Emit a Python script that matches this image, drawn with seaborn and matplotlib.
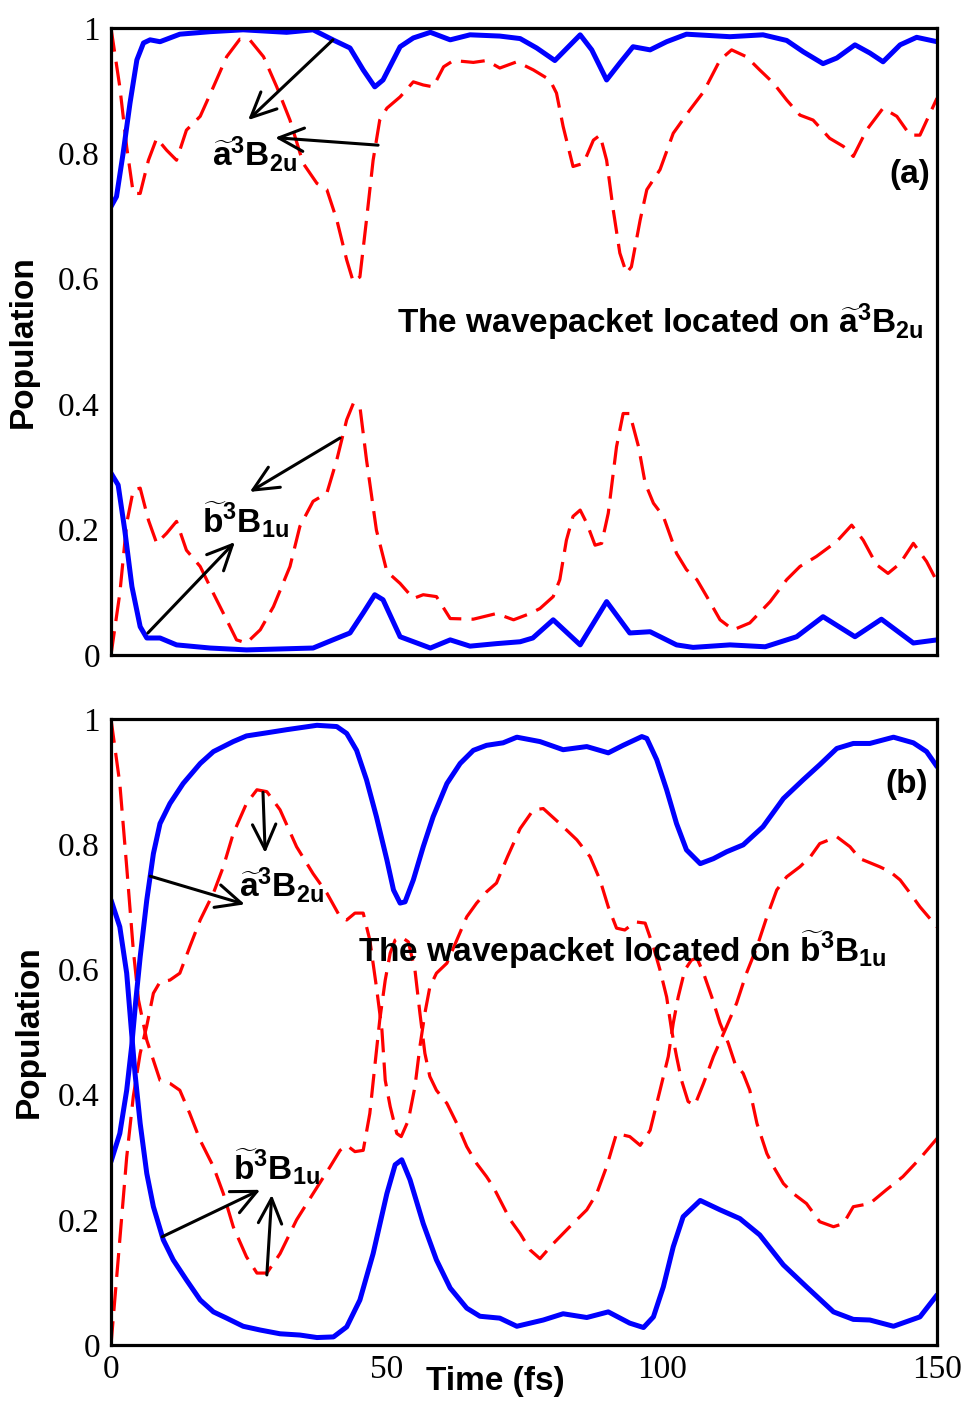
import numpy as np
import matplotlib
matplotlib.use("Agg")
import matplotlib.pyplot as plt
import seaborn as sns
from matplotlib.ticker import FixedLocator, FixedFormatter

# ---------------- panel (a): wavepacket on a~3B2u ----------------
a_blue_a_t = [0, 1.0, 2.2, 3.45, 4.7, 5.9, 7.1, 8.9, 12.5, 18, 24, 31.9, 36.7, 40.3, 43.4,
              45.8, 47.9, 49.4, 52.5, 54.9, 58, 61.6, 65.2, 70.6, 74.3, 77.3, 80.6, 85.2,
              87.3, 90.0, 92.4, 94.8, 97.9, 100.9, 104.5, 112.4, 118.4, 122.7, 125.7,
              129.3, 131.8, 135.1, 137.8, 140.2, 143.3, 146.3, 150]
a_blue_a_v = [0.715, 0.731, 0.80, 0.88, 0.949, 0.976, 0.981, 0.978, 0.99, 0.994, 0.997,
              0.993, 0.997, 0.981, 0.968, 0.933, 0.906, 0.917, 0.970, 0.984, 0.993, 0.981,
              0.989, 0.987, 0.983, 0.968, 0.948, 0.989, 0.965, 0.917, 0.944, 0.970, 0.965,
              0.978, 0.990, 0.986, 0.989, 0.980, 0.962, 0.943, 0.952, 0.973, 0.960, 0.946,
              0.973, 0.985, 0.978]

a_blue_b_t = [0, 1.3, 2.5, 3.8, 5.3, 6.5, 8.9, 11.9, 18, 24.6, 36.7, 40.3, 43.4, 45.8,
              47.9, 49.4, 52.5, 58, 61.6, 65.2, 70.0, 74.3, 76.6, 80.3, 85.2, 90.0, 94.2,
              97.9, 102.7, 105.7, 112.4, 118.8, 124.5, 129.3, 135.1, 139.9, 145.7, 150]
a_blue_b_v = [0.29, 0.271, 0.199, 0.109, 0.045, 0.027, 0.027, 0.016, 0.011, 0.008, 0.011,
              0.024, 0.035, 0.067, 0.096, 0.088, 0.029, 0.011, 0.024, 0.014, 0.018, 0.021,
              0.027, 0.056, 0.016, 0.085, 0.035, 0.037, 0.016, 0.012, 0.016, 0.013, 0.029,
              0.061, 0.029, 0.057, 0.019, 0.024]

a_red_a_t = [0, 1.6, 2.85, 4.05, 5.3, 6.8, 8.3, 10.1, 11.9, 13.7, 16.2, 18.6, 21.0, 23.4,
             25.2, 27.7, 30.1, 32.5, 34.9, 37.4, 39.2, 41.0, 42.8, 44.0, 45.2, 46.4, 47.6,
             48.8, 50.1, 52.5, 54.9, 56.7, 58.5, 60.4, 62.2, 65.8, 68.2, 70.6, 73.7, 76.7,
             79.7, 80.9, 82.1, 83.9, 85.8, 87.6, 88.8, 90.0, 91.2, 92.4, 93.6, 94.5, 96.1,
             97.3, 99.7, 102.1, 105.1, 107.6, 110.6, 112.7, 115.4, 117.8, 120.3, 122.7,
             125.1, 127.5, 130.5, 133.0, 134.8, 137.2, 140.2, 142.7, 145.1, 146.9, 150]
a_red_a_v = [1.0, 0.906, 0.81, 0.736, 0.736, 0.789, 0.824, 0.805, 0.789, 0.837, 0.859,
             0.906, 0.954, 0.982, 0.981, 0.954, 0.906, 0.853, 0.784, 0.752, 0.742, 0.694,
             0.63, 0.595, 0.603, 0.694, 0.789, 0.853, 0.872, 0.890, 0.914, 0.909, 0.906,
             0.938, 0.948, 0.945, 0.948, 0.936, 0.946, 0.933, 0.917, 0.896, 0.843, 0.779,
             0.784, 0.821, 0.829, 0.789, 0.71, 0.641, 0.609, 0.619, 0.694, 0.742, 0.774,
             0.832, 0.869, 0.898, 0.949, 0.965, 0.954, 0.933, 0.912, 0.885, 0.861, 0.853,
             0.824, 0.811, 0.795, 0.837, 0.872, 0.859, 0.829, 0.829, 0.888]

a_red_b_t = [0, 1.6, 2.85, 4.05, 5.3, 6.8, 8.3, 10.1, 11.9, 13.7, 16.2, 18.6, 21.0, 22.8,
             24.6, 27.1, 29.5, 32.5, 34.3, 36.7, 39.2, 41.0, 42.8, 44.0, 45.2, 46.4, 48.2,
             50.1, 52.5, 54.9, 56.7, 59.1, 61.6, 65.8, 70.0, 73.1, 76.1, 77.9, 80.3, 81.5,
             82.7, 83.9, 85.2, 86.4, 87.9, 89.1, 90.3, 91.8, 93.0, 94.2, 95.8, 97.0, 98.5,
             100.3, 102.7, 104.5, 106.4, 108.2, 110.6, 113.0, 116.0, 119.7, 122.7, 125.1,
             128.1, 131.8, 134.5, 136.6, 139.0, 141.1, 143.3, 145.7, 148.1, 150]
a_red_b_v = [0.0, 0.098, 0.21, 0.263, 0.266, 0.215, 0.178, 0.194, 0.213, 0.167, 0.141,
             0.098, 0.056, 0.024, 0.019, 0.04, 0.077, 0.141, 0.205, 0.245, 0.258, 0.311,
             0.375, 0.401, 0.396, 0.311, 0.199, 0.133, 0.114, 0.090, 0.096, 0.093, 0.058,
             0.057, 0.066, 0.056, 0.066, 0.074, 0.093, 0.12, 0.183, 0.221, 0.231, 0.21,
             0.175, 0.178, 0.226, 0.332, 0.385, 0.385, 0.332, 0.274, 0.242, 0.221, 0.162,
             0.136, 0.12, 0.093, 0.056, 0.04, 0.051, 0.085, 0.12, 0.141, 0.157, 0.181,
             0.207, 0.183, 0.144, 0.13, 0.146, 0.178, 0.149, 0.117]

# ---------------- panel (b): wavepacket on b~3B1u ----------------
b_blue_up_t = [0, 1.6, 2.85, 3.75, 4.5, 5.3, 6.5, 7.7, 8.9, 10.7, 13.1, 16.2, 18.6, 22.2,
               24.6, 28.3, 31.9, 37.4, 41.0, 42.8, 44.6, 46.4, 48.2, 50.1, 51.3, 52.5, 53.4,
               54.9, 56.7, 58.5, 61.0, 63.4, 65.8, 68.2, 71.2, 73.7, 77.9, 82.1, 86.4, 90.3,
               93.0, 96.4, 97.3, 99.1, 100.9, 102.7, 104.5, 107.0, 109.4, 111.8, 114.8,
               118.4, 122.1, 125.7, 128.7, 131.8, 134.8, 137.8, 142.1, 145.7, 148.1, 150]
b_blue_up_v = [0.293, 0.338, 0.407, 0.477, 0.55, 0.62, 0.711, 0.785, 0.833, 0.865, 0.897,
               0.929, 0.948, 0.964, 0.973, 0.978, 0.983, 0.990, 0.988, 0.977, 0.95, 0.903,
               0.844, 0.775, 0.727, 0.706, 0.708, 0.743, 0.796, 0.844, 0.897, 0.929, 0.95,
               0.958, 0.962, 0.971, 0.964, 0.951, 0.956, 0.946, 0.958, 0.972, 0.969, 0.935,
               0.887, 0.833, 0.791, 0.769, 0.777, 0.788, 0.799, 0.828, 0.873, 0.903, 0.927,
               0.953, 0.961, 0.961, 0.971, 0.962, 0.948, 0.924]

b_blue_down_t = [0, 1.6, 2.85, 3.75, 4.36, 5.3, 6.5, 7.7, 9.5, 11.3, 13.7, 16.2, 18.6, 21.0,
                 24.0, 27.1, 30.7, 34.3, 37.4, 40.4, 42.8, 45.2, 47.6, 50.1, 51.6, 52.8,
                 54.3, 56.7, 59.1, 61.6, 64.6, 67.0, 70.6, 73.7, 76.1, 78.5, 82.1, 86.4,
                 90.3, 94.2, 96.7, 98.5, 100.3, 102.1, 103.9, 107.0, 110.6, 114.2, 117.8,
                 122.1, 126.3, 131.2, 134.8, 137.8, 142.1, 146.9, 150]
b_blue_down_v = [0.711, 0.668, 0.594, 0.498, 0.434, 0.354, 0.274, 0.221, 0.168, 0.136,
                 0.104, 0.072, 0.053, 0.043, 0.030, 0.024, 0.018, 0.016, 0.012, 0.013,
                 0.029, 0.072, 0.146, 0.242, 0.288, 0.296, 0.264, 0.194, 0.136, 0.091,
                 0.059, 0.046, 0.043, 0.030, 0.035, 0.040, 0.050, 0.044, 0.053, 0.035,
                 0.028, 0.045, 0.093, 0.157, 0.205, 0.231, 0.216, 0.202, 0.176, 0.128,
                 0.093, 0.053, 0.041, 0.040, 0.030, 0.045, 0.08]

b_red_one_t = [0, 1.6, 2.85, 4.05, 5.0, 6.5, 8.9, 10.7, 12.5, 14.3, 16.2, 18.6, 20.4, 22.2,
               24.6, 26.5, 28.3, 30.7, 33.7, 36.7, 39.8, 41.6, 42.8, 44.3, 45.8, 47.0, 47.9,
               48.8, 49.8, 50.7, 51.6, 52.7, 54.0, 55.2, 56.1, 57.0, 57.9, 59.1, 61.0, 62.8,
               64.6, 66.4, 68.2, 69.4, 72.5, 74.3, 76.1, 77.9, 80.3, 83.3, 86.4, 88.2, 90.0,
               91.8, 94.2, 96.1, 97.9, 99.7, 101.2, 102.1, 103.0, 104.2, 105.4, 106.4,
               107.6, 109.1, 110.6, 112.1, 113.3, 114.8, 116.0, 117.3, 119.1, 120.3, 122.1,
               123.9, 126.3, 128.7, 131.2, 133.0, 134.8, 137.8, 140.8, 143.8, 146.9, 150]
b_red_one_v = [1.0, 0.897, 0.764, 0.631, 0.551, 0.487, 0.423, 0.418, 0.407, 0.37, 0.327,
               0.285, 0.242, 0.189, 0.141, 0.115, 0.115, 0.146, 0.2, 0.242, 0.285, 0.311,
               0.319, 0.309, 0.311, 0.37, 0.445, 0.519, 0.583, 0.626, 0.647, 0.652, 0.644,
               0.599, 0.53, 0.466, 0.429, 0.407, 0.386, 0.354, 0.317, 0.290, 0.269, 0.253,
               0.2, 0.178, 0.152, 0.138, 0.162, 0.189, 0.216, 0.242, 0.285, 0.338, 0.333,
               0.319, 0.343, 0.407, 0.461, 0.514, 0.556, 0.599, 0.615, 0.618, 0.594, 0.556,
               0.514, 0.482, 0.45, 0.434, 0.407, 0.354, 0.306, 0.285, 0.258, 0.242, 0.226,
               0.197, 0.189, 0.194, 0.221, 0.226, 0.248, 0.269, 0.298, 0.33]

b_red_two_t = [0, 1.6, 2.85, 4.05, 5.3, 6.5, 7.7, 8.9, 10.7, 12.5, 14.3, 16.2, 18.6, 20.4,
               22.2, 24.6, 26.5, 28.3, 30.7, 33.7, 36.7, 39.2, 41.6, 42.8, 44.3, 45.8, 47.0,
               48.2, 49.2, 49.8, 50.7, 51.9, 52.7, 54.0, 55.2, 56.1, 57.0, 57.9, 59.1, 61.0,
               62.8, 64.6, 66.4, 68.2, 70.0, 72.0, 74.3, 76.7, 78.5, 81.5, 84.6, 87.0, 88.8,
               90.3, 91.8, 93.3, 95.2, 97.0, 98.5, 99.7, 100.9, 101.8, 102.7, 103.6, 104.8,
               106.0, 107.6, 109.4, 111.5, 113.6, 115.4, 117.3, 119.1, 120.9, 122.7, 125.1,
               127.0, 128.7, 131.8, 134.2, 136.0, 139.6, 141.5, 143.3, 145.1, 146.9, 150]
b_red_two_v = [0.0, 0.168, 0.30, 0.397, 0.466, 0.51, 0.562, 0.580, 0.583, 0.594, 0.636,
               0.679, 0.722, 0.764, 0.817, 0.865, 0.887, 0.884, 0.855, 0.796, 0.753, 0.722,
               0.684, 0.679, 0.69, 0.69, 0.647, 0.572, 0.503, 0.423, 0.381, 0.338, 0.333,
               0.359, 0.413, 0.477, 0.530, 0.572, 0.594, 0.61, 0.647, 0.684, 0.706, 0.724,
               0.738, 0.78, 0.825, 0.855, 0.857, 0.833, 0.807, 0.78, 0.743, 0.700, 0.666,
               0.663, 0.676, 0.674, 0.636, 0.599, 0.556, 0.503, 0.461, 0.423, 0.389, 0.383,
               0.418, 0.461, 0.503, 0.546, 0.594, 0.636, 0.684, 0.727, 0.748, 0.764, 0.78,
               0.801, 0.812, 0.796, 0.777, 0.764, 0.756, 0.743, 0.722, 0.70, 0.668]

y_ticks = [0, 0.2, 0.4, 0.6, 0.8, 1.0]
y_tick_labels = ["0", "0.2", "0.4", "0.6", "0.8", "1"]
y_minor = [0.1, 0.3, 0.5, 0.7, 0.9]
x_ticks = [0, 50, 100, 150]
x_tick_labels = ["0", "50", "100", "150"]
x_minor = [25, 75, 125]

label_a = r"$\widetilde{\rm a}^{3}{\rm B}_{2u}$"
label_b = r"$\widetilde{\rm b}^{3}{\rm B}_{1u}$"

sns.set_theme(style="white")
plt.rcParams.update({
    "font.family": ["Liberation Serif", "DejaVu Serif"],
    "mathtext.fontset": "custom",
    "mathtext.rm": "Liberation Sans:bold",
    "mathtext.it": "Liberation Sans:bold",
    "mathtext.bf": "Liberation Sans:bold",
    "mathtext.sf": "Liberation Sans:bold",
    "axes.linewidth": 2.3,
    "axes.edgecolor": "black",
    "text.color": "black",
    "axes.labelcolor": "black",
    "xtick.color": "black",
    "ytick.color": "black",
    "xtick.labelcolor": "black",
    "ytick.labelcolor": "black",
})

BLUE = "#0000ff"
RED = "#ff0000"
SANS = "Liberation Sans"

fig = plt.figure(figsize=(9.66, 14.03), dpi=100)
ax_a = fig.add_axes([0.1149, 0.5332, 0.8551, 0.4469])
ax_b = fig.add_axes([0.1149, 0.0413, 0.8551, 0.4462])


def draw_red(ax, t, v):
    sns.lineplot(x=t, y=v, ax=ax, color=RED, linewidth=2.3, sort=False,
                 estimator=None, linestyle=(0, (7.5, 3.2)))


def draw_blue(ax, t, v):
    sns.lineplot(x=t, y=v, ax=ax, color=BLUE, linewidth=3.6, sort=False,
                 estimator=None)


def arrow(ax, tail, head):
    ax.annotate("", xy=head, xytext=tail,
                arrowprops=dict(arrowstyle="->,head_length=0.9,head_width=0.42",
                                lw=2.2, color="black", shrinkA=0, shrinkB=0,
                                mutation_scale=20))


def style_axes(ax, show_xlabels):
    ax.set_xlim(0, 150)
    ax.set_ylim(0, 1)
    ax.xaxis.set_major_locator(FixedLocator(x_ticks))
    ax.xaxis.set_minor_locator(FixedLocator(x_minor))
    ax.yaxis.set_major_locator(FixedLocator(y_ticks))
    ax.yaxis.set_minor_locator(FixedLocator(y_minor))
    ax.yaxis.set_major_formatter(FixedFormatter(y_tick_labels))
    ax.xaxis.set_major_formatter(FixedFormatter(x_tick_labels))
    ax.tick_params(axis="x", which="major", direction="in", length=16, width=1.5,
                   labelsize=24, pad=7, labelbottom=show_xlabels)
    ax.tick_params(axis="x", which="minor", direction="in", length=7, width=1.5)
    ax.tick_params(axis="y", which="major", direction="in", length=12, width=1.5,
                   labelsize=24, pad=8)
    ax.tick_params(axis="y", which="minor", direction="in", length=6, width=1.5)
    ax.tick_params(top=False, right=False, which="both", colors="black")
    for s in ax.spines.values():
        s.set_linewidth(2.3)
        s.set_color("black")
    ax.set_xlabel("")
    ax.set_ylabel("Population", fontsize=24, fontweight="bold", family=SANS,
                  color="black")


# ---- panel (a)
draw_red(ax_a, a_red_a_t, a_red_a_v)
draw_red(ax_a, a_red_b_t, a_red_b_v)
draw_blue(ax_a, a_blue_a_t, a_blue_a_v)
draw_blue(ax_a, a_blue_b_t, a_blue_b_v)
style_axes(ax_a, False)
ax_a.yaxis.set_label_coords(-0.088, 0.5)

ax_a.text(18.3, 0.78, label_a, fontsize=24, ha="left", va="baseline")
arrow(ax_a, (40.3, 0.981), (24.9, 0.853))
arrow(ax_a, (48.5, 0.813), (29.8, 0.825))
ax_a.text(16.6, 0.195, label_b, fontsize=24, ha="left", va="baseline")
arrow(ax_a, (41.6, 0.346), (25.2, 0.26))
arrow(ax_a, (6.7, 0.035), (22.5, 0.18))
ax_a.text(52.0, 0.514, "The wavepacket located on " + label_a, fontsize=24,
          fontweight="bold", family=SANS, ha="left", va="baseline")
ax_a.text(148.8, 0.752, "(a)", fontsize=24, fontweight="bold", family=SANS,
          ha="right", va="baseline")

# ---- panel (b)
draw_red(ax_b, b_red_one_t, b_red_one_v)
draw_red(ax_b, b_red_two_t, b_red_two_v)
draw_blue(ax_b, b_blue_up_t, b_blue_up_v)
draw_blue(ax_b, b_blue_down_t, b_blue_down_v)
style_axes(ax_b, True)
ax_b.yaxis.set_label_coords(-0.080, 0.5)
ax_b.set_xlabel("Time (fs)", fontsize=24, fontweight="bold", family=SANS,
                color="black")
ax_b.xaxis.set_label_coords(0.465, -0.034)

ax_b.text(23.3, 0.716, label_a, fontsize=24, ha="left", va="baseline")
arrow(ax_b, (27.6, 0.883), (28.0, 0.786))
arrow(ax_b, (7.1, 0.749), (24.3, 0.704))
ax_b.text(22.1, 0.264, label_b, fontsize=24, ha="left", va="baseline")
arrow(ax_b, (9.3, 0.173), (27.1, 0.248))
arrow(ax_b, (28.3, 0.112), (29.2, 0.24))
ax_b.text(44.8, 0.612, "The wavepacket located on " + label_b, fontsize=24,
          fontweight="bold", family=SANS, ha="left", va="baseline")
ax_b.text(148.4, 0.882, "(b)", fontsize=24, fontweight="bold", family=SANS,
          ha="right", va="baseline")

fig.savefig("out.png", dpi=100, facecolor="white")
